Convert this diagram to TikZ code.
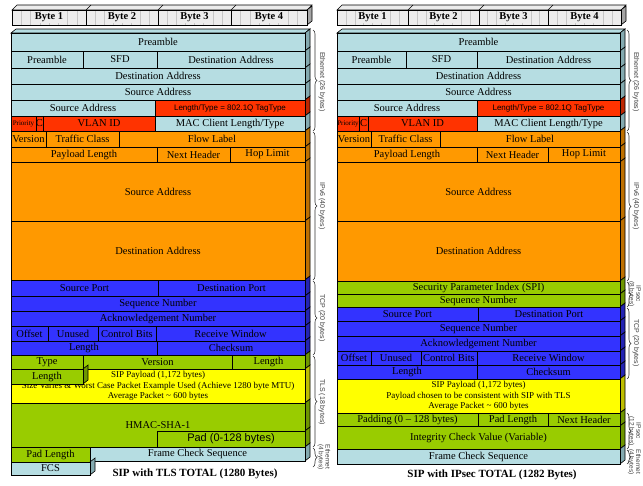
\documentclass[tikz,border=0pt]{standalone}
\usepackage{fontspec}
\setmainfont{Liberation Serif}
\newfontfamily\sansfam{Liberation Sans}
\usetikzlibrary{decorations.pathreplacing}

% field colours (front) and their darker side shades
\definecolor{ethc}{RGB}{182,221,226}
\definecolor{eths}{RGB}{132,170,176}
\definecolor{tagc}{RGB}{255,51,0}
\definecolor{tags}{RGB}{190,38,0}
\definecolor{ipc}{RGB}{255,153,0}
\definecolor{ips}{RGB}{190,112,0}
\definecolor{tcpc}{RGB}{51,51,255}
\definecolor{tcps}{RGB}{36,36,180}
\definecolor{grnc}{RGB}{153,204,0}
\definecolor{grns}{RGB}{110,150,0}
\definecolor{ylwc}{RGB}{255,255,0}
\definecolor{ylws}{RGB}{190,190,0}
\definecolor{hdrc}{RGB}{236,236,236}
\definecolor{hdrs}{RGB}{165,165,165}

% \fld{name}{x1}{y1}{x2}{y2}{options}{text}
\newcommand\fld[7]{%
  \pgfmathsetmacro\fldW{#4-(#2)}%
  \pgfmathsetmacro\fldH{#5-(#3)}%
  \pgfmathsetmacro\fldX{(#2+#4)/2}%
  \pgfmathsetmacro\fldY{(#3+#5)/2}%
  \node[cell,#6,minimum width=\fldW pt,minimum height=\fldH pt] (#1) at (\fldX,\fldY) {#7};}
% \topface{x1}{x2}{y}{depth}{colour}
\newcommand\topface[5]{%
  \filldraw[fill=#5,edge] (#1,#3) -- (#1+5,#3-#4) -- (#2+5,#3-#4) -- (#2,#3) -- cycle;}
% \sideface{x}{y1}{y2}{colour}
\newcommand\sideface[4]{%
  \filldraw[fill=#4,edge] (#1,#2) -- (#1+5,#2-4) -- (#1+5,#3-4) -- (#1,#3) -- cycle;}

\begin{document}
\begin{tikzpicture}[x=1pt,y=-1pt,
  edge/.style={draw=black,line width=0.6pt},
  cell/.style={draw=black,line width=0.7pt,inner sep=0pt,outer sep=0pt,
    font=\fontsize{10.5}{12}\selectfont,text=black},
  bytecell/.style={draw=black,line width=0.6pt},
  bytetxt/.style={fill=hdrc,inner sep=1pt,font=\bfseries\fontsize{10.5}{12}\selectfont},
  tick/.style={draw=gray!45,line width=0.4pt},
  tagtxt/.style={font=\sansfam\fontsize{8}{9.6}\selectfont},
  smalltxt/.style={font=\fontsize{7}{8}\selectfont},
  paytxt/.style={font=\fontsize{9}{10.4}\selectfont,align=center},
  title/.style={font=\bfseries\fontsize{11}{13}\selectfont,inner sep=0pt},
  brc/.style={decorate,decoration={brace,amplitude=4pt},draw=black!80,line width=0.6pt},
  blab/.style={rotate=-90,font=\sansfam\fontsize{7}{7.6}\selectfont,text=black!75,align=center,inner sep=0pt},
  blab2/.style={blab,font=\sansfam\fontsize{6.5}{6.8}\selectfont}]

\useasboundingbox (0,0) rectangle (643,485);
\fill[white] (0,0) rectangle (643,485);

% ================= byte rulers =================
\topface{12}{307}{10}{5}{hdrc}
\sideface{307}{10}{25}{hdrs}
\fill[hdrc] (12,10) rectangle (307,25);
\foreach \a/\b in {12/86,86/158,158/231,231/307}
  {\foreach \k in {1,...,7} {\draw[tick] ({\a+\k*(\b-\a)/8},10) -- ({\a+\k*(\b-\a)/8},25);}}
\foreach \d in {86,158,231} {\draw[edge] (\d,10) -- (\d+5,5);}
\fld{lb1}{12}{10}{86}{25}{bytecell}{}
\fld{lb2}{86}{10}{158}{25}{bytecell}{}
\fld{lb3}{158}{10}{231}{25}{bytecell}{}
\fld{lb4}{231}{10}{307}{25}{bytecell}{}
\node[bytetxt] (lb1t) at (lb1) {Byte 1};
\node[bytetxt] (lb2t) at (lb2) {Byte 2};
\node[bytetxt] (lb3t) at (lb3) {Byte 3};
\node[bytetxt] (lb4t) at (lb4) {Byte 4};

\topface{337}{621}{10}{5}{hdrc}
\sideface{621}{10}{25}{hdrs}
\fill[hdrc] (337,10) rectangle (621,25);
\foreach \a/\b in {337/408,408/479,479/548,548/621}
  {\foreach \k in {1,...,7} {\draw[tick] ({\a+\k*(\b-\a)/8},10) -- ({\a+\k*(\b-\a)/8},25);}}
\foreach \d in {408,479,548} {\draw[edge] (\d,10) -- (\d+5,5);}
\fld{rb1}{337}{10}{408}{25}{bytecell}{}
\fld{rb2}{408}{10}{479}{25}{bytecell}{}
\fld{rb3}{479}{10}{548}{25}{bytecell}{}
\fld{rb4}{548}{10}{621}{25}{bytecell}{}
\node[bytetxt] (rb1t) at (rb1) {Byte 1};
\node[bytetxt] (rb2t) at (rb2) {Byte 2};
\node[bytetxt] (rb3t) at (rb3) {Byte 3};
\node[bytetxt] (rb4t) at (rb4) {Byte 4};

% ================= SIP over TLS stack =================
\topface{11}{305}{33}{4}{ethc}
\foreach \ya/\yb/\c in {33/51/eths,51/68/eths,68/84/eths,84/100/eths,100/116/tags,116/131/eths,
    131/147/ips,147/162/ips,162/221/ips,221/280/ips,
    280/296/tcps,296/311/tcps,311/326/tcps,326/341/tcps,341/355/tcps,
    355/369/grns,369/403/ylws,403/431/grns,431/447/grns,447/461/eths}
  {\sideface{305}{\ya}{\yb}{\c}}

\fld{lpre}{11}{33}{305}{51}{fill=ethc}{Preamble}
\fld{lpre2}{11}{51}{83}{68}{fill=ethc}{Preamble}
\fld{lsfd}{83}{51}{157}{68}{fill=ethc}{SFD}
\fld{ldst1}{157}{51}{305}{68}{fill=ethc}{Destination Address}
\fld{ldst2}{11}{68}{305}{84}{fill=ethc}{Destination Address}
\fld{lsrc1}{11}{84}{305}{100}{fill=ethc}{Source Address}
\fld{lsrc2}{11}{100}{155}{116}{fill=ethc}{Source Address}
\fld{ltype}{155}{100}{305}{116}{fill=tagc,tagtxt}{Length/Type = 802.1Q TagType}
\fld{lprio}{11}{116}{36}{131}{fill=tagc,smalltxt}{Priority}
\fld{lcfi}{36}{116}{43}{131}{fill=tagc}{C}
\fld{lvlan}{43}{116}{155}{131}{fill=tagc}{VLAN ID}
\fld{lmac}{155}{116}{305}{131}{fill=ethc}{MAC Client Length/Type}

\fld{lver}{11}{131}{46}{147}{fill=ipc}{Version}
\fld{ltc}{46}{131}{119}{147}{fill=ipc}{Traffic Class}
\fld{lflow}{119}{131}{305}{147}{fill=ipc}{Flow Label}
\fld{lplen}{11}{147}{157}{162}{fill=ipc}{Payload Length}
\fld{lnh}{157}{147}{230}{162}{fill=ipc}{Next Header}
\fld{lhop}{230}{147}{305}{162}{fill=ipc}{Hop Limit}
\fld{lsa}{11}{162}{305}{221}{fill=ipc}{Source Address}
\fld{lda}{11}{221}{305}{280}{fill=ipc}{Destination Address}

\fld{lsp}{11}{280}{158}{296}{fill=tcpc}{Source Port}
\fld{ldp}{158}{280}{305}{296}{fill=tcpc}{Destination Port}
\fld{lseq}{11}{296}{305}{311}{fill=tcpc}{Sequence Number}
\fld{lack}{11}{311}{305}{326}{fill=tcpc}{Acknowledgement Number}
\fld{loff}{11}{326}{48}{341}{fill=tcpc}{Offset}
\fld{lunu}{48}{326}{98}{341}{fill=tcpc}{Unused}
\fld{lctl}{98}{326}{156}{341}{fill=tcpc}{Control Bits}
\fld{lwin}{156}{326}{305}{341}{fill=tcpc}{Receive Window}
\fld{llen}{11}{341}{157}{355}{fill=tcpc}{Length}
\fld{lcks}{157}{341}{305}{355}{fill=tcpc}{Checksum}

\fld{ltyp}{11}{355}{83}{369}{fill=grnc}{Type}
\fld{lvers}{83}{355}{232}{369}{fill=grnc}{Version}
\fld{ltlen}{232}{355}{305}{369}{fill=grnc}{Length}
\fld{lsip}{11}{369}{305}{403}{fill=ylwc,paytxt}{SIP Payload (1,172 bytes)\\Size Varies \& Worst Case Packet Example Used (Achieve 1280 byte MTU)\\Average Packet \textasciitilde{} 600 bytes}
\sideface{83}{369}{384}{grns}
\fld{lrlen}{11}{369}{83}{384}{fill=grnc}{Length}
\fld{lhmac}{11}{403}{305}{447}{fill=grnc}{HMAC-SHA-1}
\fld{lpad}{157}{431}{305}{447}{fill=grnc,font=\sansfam\fontsize{11}{13}\selectfont}{Pad (0-128 bytes)}

\fld{lfcs}{90}{447}{305}{461}{fill=ethc}{Frame Check Sequence}
\fld{lpadl}{11}{447}{90}{462}{fill=grnc}{Pad Length}
\sideface{90}{462}{475}{eths}
\fld{lfcs2}{11}{462}{90}{475}{fill=ethc}{FCS}
\node[title] (ltitle) at (195,474) {SIP with TLS TOTAL (1280 Bytes)};

% ================= SIP over IPsec stack =================
\topface{337}{620}{33}{4}{ethc}
\foreach \ya/\yb/\c in {33/51/eths,51/68/eths,68/84/eths,84/100/eths,100/116/tags,116/131/eths,
    131/147/ips,147/162/ips,162/221/ips,221/281/ips,281/294/grns,294/307/grns,
    307/321/tcps,321/336/tcps,336/351/tcps,351/365/tcps,365/379/tcps,
    379/413/ylws,413/426/grns,426/449/grns,449/464/eths}
  {\sideface{620}{\ya}{\yb}{\c}}

\fld{rpre}{337}{33}{620}{51}{fill=ethc}{Preamble}
\fld{rpre2}{337}{51}{406}{68}{fill=ethc}{Preamble}
\fld{rsfd}{406}{51}{477}{68}{fill=ethc}{SFD}
\fld{rdst1}{477}{51}{620}{68}{fill=ethc}{Destination Address}
\fld{rdst2}{337}{68}{620}{84}{fill=ethc}{Destination Address}
\fld{rsrc1}{337}{84}{620}{100}{fill=ethc}{Source Address}
\fld{rsrc2}{337}{100}{477}{116}{fill=ethc}{Source Address}
\fld{rtype}{477}{100}{620}{116}{fill=tagc,tagtxt}{Length/Type = 802.1Q TagType}
\fld{rprio}{337}{116}{359}{131}{fill=tagc,smalltxt}{Priority}
\fld{rcfi}{359}{116}{368}{131}{fill=tagc}{C}
\fld{rvlan}{368}{116}{477}{131}{fill=tagc}{VLAN ID}
\fld{rmac}{477}{116}{620}{131}{fill=ethc}{MAC Client Length/Type}

\fld{rver}{337}{131}{371}{147}{fill=ipc}{Version}
\fld{rtc}{371}{131}{440}{147}{fill=ipc}{Traffic Class}
\fld{rflow}{440}{131}{620}{147}{fill=ipc}{Flow Label}
\fld{rplen}{337}{147}{477}{162}{fill=ipc}{Payload Length}
\fld{rnh}{477}{147}{548}{162}{fill=ipc}{Next Header}
\fld{rhop}{548}{147}{620}{162}{fill=ipc}{Hop Limit}
\fld{rsa}{337}{162}{620}{221}{fill=ipc}{Source Address}
\fld{rda}{337}{221}{620}{281}{fill=ipc}{Destination Address}

\fld{rspi}{337}{281}{620}{294}{fill=grnc}{Security Parameter Index (SPI)}
\fld{rsn}{337}{294}{620}{307}{fill=grnc}{Sequence Number}

\fld{rsp}{337}{307}{478}{321}{fill=tcpc}{Source Port}
\fld{rdp}{478}{307}{620}{321}{fill=tcpc}{Destination Port}
\fld{rseq}{337}{321}{620}{336}{fill=tcpc}{Sequence Number}
\fld{rack}{337}{336}{620}{351}{fill=tcpc}{Acknowledgement Number}
\fld{roff}{337}{351}{371}{365}{fill=tcpc}{Offset}
\fld{runu}{371}{351}{421}{365}{fill=tcpc}{Unused}
\fld{rctl}{421}{351}{477}{365}{fill=tcpc}{Control Bits}
\fld{rwin}{477}{351}{620}{365}{fill=tcpc}{Receive Window}
\fld{rlen}{337}{365}{477}{379}{fill=tcpc}{Length}
\fld{rcks}{477}{365}{620}{379}{fill=tcpc}{Checksum}

\fld{rsip}{337}{379}{620}{413}{fill=ylwc,paytxt}{SIP Payload (1,172 bytes)\\Payload chosen to be consistent with SIP with TLS\\Average Packet \textasciitilde{} 600 bytes}
\fld{rpadd}{337}{413}{478}{426}{fill=grnc}{Padding (0 -- 128 bytes)}
\fld{rpadl}{478}{413}{548}{426}{fill=grnc}{Pad Length}
\fld{rnh2}{548}{413}{620}{426}{fill=grnc}{Next Header}
\fld{ricv}{337}{426}{620}{449}{fill=grnc}{Integrity Check Value (Variable)}
\fld{rfcs}{337}{449}{620}{464}{fill=ethc}{Frame Check Sequence}
\node[title] (rtitle) at (492,475) {SIP with IPsec TOTAL (1282 Bytes)};

% ================= layer braces =================
\coordinate (lbA1) at (313,30);  \coordinate (lbA2) at (313,131);
\coordinate (lbB1) at (313,132); \coordinate (lbB2) at (313,280);
\coordinate (lbC1) at (313,281); \coordinate (lbC2) at (313,355);
\coordinate (lbD1) at (313,356); \coordinate (lbD2) at (313,447);
\coordinate (lbE1) at (313,448); \coordinate (lbE2) at (313,467);
\draw[brc] (lbA1) -- (lbA2);
\draw[brc] (lbB1) -- (lbB2);
\draw[brc] (lbC1) -- (lbC2);
\draw[brc] (lbD1) -- (lbD2);
\draw[brc] (lbE1) -- (lbE2);
\node[blab] (llA) at (322,82) {Ethernet (26 bytes)};
\node[blab] (llB) at (322,206) {IPv6 (40 bytes)};
\node[blab] (llC) at (322,318) {TCP (20 bytes)};
\node[blab] (llD) at (322,402) {TLS (18 bytes)};
\node[blab2] (llE) at (324,457) {Ethernet\\(4 bytes)};

\coordinate (rbA1) at (627,30);  \coordinate (rbA2) at (627,131);
\coordinate (rbB1) at (627,132); \coordinate (rbB2) at (627,281);
\coordinate (rbC1) at (627,282); \coordinate (rbC2) at (627,307);
\coordinate (rbD1) at (627,308); \coordinate (rbD2) at (627,379);
\coordinate (rbE1) at (627,413); \coordinate (rbE2) at (627,449);
\coordinate (rbF1) at (627,450); \coordinate (rbF2) at (627,464);
\draw[brc] (rbA1) -- (rbA2);
\draw[brc] (rbB1) -- (rbB2);
\draw[brc] (rbC1) -- (rbC2);
\draw[brc] (rbD1) -- (rbD2);
\draw[brc] (rbE1) -- (rbE2);
\draw[brc] (rbF1) -- (rbF2);
\node[blab] (rlA) at (636,82) {Ethernet (26 bytes)};
\node[blab] (rlB) at (636,206) {IPv6 (40 bytes)};
\node[blab2] (rlC) at (634.5,294) {IPsec\\(8 bytes)};
\node[blab] (rlD) at (636,343) {TCP (20 bytes)};
\node[blab2] (rlE) at (634.5,431) {IPsec\\(12 bytes)};
\node[blab2] (rlF) at (634.5,462) {Ethernet\\(4 bytes)};
\end{tikzpicture}
\end{document}
